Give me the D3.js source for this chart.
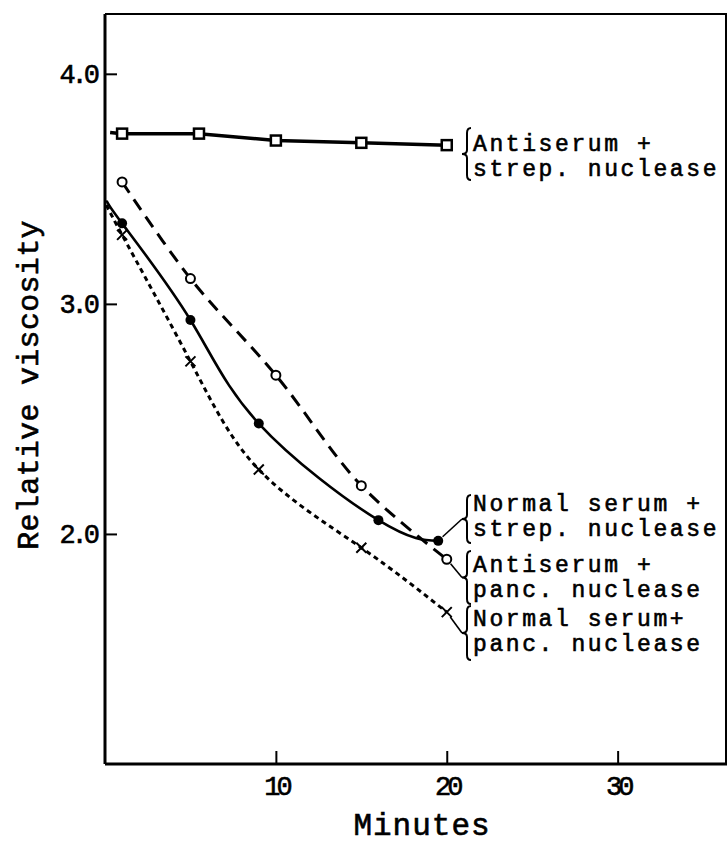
<!DOCTYPE html>
<html>
<head>
<meta charset="utf-8">
<script src="https://cdn.jsdelivr.net/npm/d3@7"></script>
<style>
body { margin: 0; background: #fff; }
text { font-family: "Liberation Mono", monospace; fill: #000; stroke: #000; stroke-width: 0.6px; }
</style>
</head>
<body>
<div id="chart"></div>
<script>
// values: minutes vs relative viscosity
var antiStrepMin  = [1, 5.5, 10, 15, 20];
var antiStrepVisc = [3.74, 3.74, 3.71, 3.70, 3.69];

var normStrepMin  = [1, 5, 9, 16, 19.5];
var normStrepVisc = [3.35, 2.93, 2.48, 2.06, 1.97];

var antiPancMin  = [1, 5, 10, 15, 20];
var antiPancVisc = [3.53, 3.11, 2.69, 2.21, 1.89];

var normPancMin  = [1, 5, 9, 15, 20];
var normPancVisc = [3.30, 2.75, 2.28, 1.94, 1.66];

// where the drawn lines start, next to the y axis
var lineStartMin  = [0.3, 0.1, 1, 0.1];
var lineStartVisc = [3.745, 3.45, 3.53, 3.43];

var xTicks = [10, 20, 30];
var yTicks = [2.0, 3.0, 4.0];

var labelLines = [
  ["Antiserum +", "strep. nuclease"],
  ["Normal serum +", "strep. nuclease"],
  ["Antiserum +", "panc. nuclease"],
  ["Normal serum+", "panc. nuclease"]
];

var svgWidth = 728, svgHeight = 843;
var margin = {top: 14, left: 105, bottom: 79, right: 1};

var svg = d3.select("#chart")
  .append("svg")
    .attr("width", svgWidth)
    .attr("height", svgHeight);

var x = d3.scaleLinear()
  .domain([0, 36.4])
  .range([margin.left, svgWidth - margin.right]);

var y = d3.scaleLinear()
  .domain([1, 4.26])
  .range([svgHeight - margin.bottom, margin.top]);

// frame
var x0 = x.range()[0], x1 = x.range()[1], y0 = y.range()[0], y1 = y.range()[1];
svg.append("line").attr("x1", x0).attr("x2", x1).attr("y1", y1).attr("y2", y1)
  .attr("stroke", "#000").attr("stroke-width", 2);
svg.append("line").attr("x1", x1 - 1).attr("x2", x1 - 1).attr("y1", y1).attr("y2", y0)
  .attr("stroke", "#000").attr("stroke-width", 2);

// axes
var xAxis = svg.append("g")
  .attr("transform", "translate(0," + y0 + ")")
  .call(d3.axisBottom(x).tickValues(xTicks).tickSize(-13).tickPadding(12).tickFormat(d3.format("d")));
var yAxis = svg.append("g")
  .attr("transform", "translate(" + x0 + ",0)")
  .call(d3.axisLeft(y).tickValues(yTicks).tickSize(-12).tickPadding(9).tickFormat(d3.format(".1f")));

[xAxis, yAxis].forEach(function(g) {
  g.select(".domain").remove();
  g.selectAll(".tick line").attr("stroke", "#000").attr("stroke-width", 2);
  g.selectAll(".tick text")
    .attr("font-family", "Liberation Mono")
    .attr("font-size", 27)
    .style("letter-spacing", "-4px")
    .attr("fill", "#000");
});

svg.append("line").attr("x1", x0).attr("x2", x1).attr("y1", y0).attr("y2", y0)
  .attr("stroke", "#000").attr("stroke-width", 3);
svg.append("line").attr("x1", x0).attr("x2", x0).attr("y1", y1).attr("y2", y0)
  .attr("stroke", "#000").attr("stroke-width", 3);

// axis titles
svg.append("text")
  .attr("x", 422)
  .attr("y", 835)
  .attr("text-anchor", "middle")
  .attr("font-size", 31)
  .style("letter-spacing", "1px")
  .text("Minutes");

svg.append("text")
  .attr("transform", "translate(38,385) rotate(-90)")
  .attr("text-anchor", "middle")
  .attr("font-size", 30)
  .style("letter-spacing", "0.3px")
  .text("Relative viscosity");

// series
function pts(mins, vals) {
  return mins.map(function(m, i) { return [m, vals[i]]; });
}

var series = [
  {p: pts(antiStrepMin, antiStrepVisc), curve: d3.curveLinear, width: 3.5, dash: null, mark: "square"},
  {p: pts(normStrepMin, normStrepVisc), curve: d3.curveNatural, width: 2.6, dash: null, mark: "dot"},
  {p: pts(antiPancMin, antiPancVisc), curve: d3.curveCatmullRom.alpha(0.5), width: 3, dash: "13,8", mark: "circle"},
  {p: pts(normPancMin, normPancVisc), curve: d3.curveNatural, width: 3, dash: "5,4", mark: "cross"}
];

series.forEach(function(s, i) {
  var lineData = s.p.slice();
  if (lineStartMin[i] < s.p[0][0]) lineData.unshift([lineStartMin[i], lineStartVisc[i]]);
  var line = d3.line()
    .x(function(d) { return x(d[0]); })
    .y(function(d) { return y(d[1]); })
    .curve(s.curve);
  svg.append("path")
    .datum(lineData)
    .attr("d", line)
    .attr("fill", "none")
    .attr("stroke", "#000")
    .attr("stroke-width", s.width)
    .attr("stroke-dasharray", s.dash);
});

// markers
series.forEach(function(s) {
  var g = svg.append("g");
  s.p.forEach(function(d) {
    var cx = x(d[0]), cy = y(d[1]);
    if (s.mark === "square") {
      g.append("rect").attr("x", cx - 5).attr("y", cy - 5).attr("width", 10).attr("height", 10)
        .attr("fill", "#fff").attr("stroke", "#000").attr("stroke-width", 2.5);
    } else if (s.mark === "dot") {
      g.append("circle").attr("cx", cx).attr("cy", cy).attr("r", 5).attr("fill", "#000");
    } else if (s.mark === "circle") {
      g.append("circle").attr("cx", cx).attr("cy", cy).attr("r", 4.5)
        .attr("fill", "#fff").attr("stroke", "#000").attr("stroke-width", 2);
    } else {
      g.append("path")
        .attr("d", "M" + (cx - 5) + "," + (cy - 5) + "L" + (cx + 5) + "," + (cy + 5) +
                   "M" + (cx + 5) + "," + (cy - 5) + "L" + (cx - 5) + "," + (cy + 5))
        .attr("stroke", "#000").attr("stroke-width", 2);
    }
  });
});

// braces with labels
var braceX = 467;
var braceSpans = [[128, 180], [495, 543], [551, 604], [606, 660]];
var baselineOffsets = [23, 16, 21, 20];

function bracePath(xb, top, bot) {
  var mid = (top + bot) / 2;
  return "M" + (xb + 4) + "," + top +
    "Q" + xb + "," + top + " " + xb + "," + (top + 5) +
    "L" + xb + "," + (mid - 4) +
    "Q" + xb + "," + mid + " " + (xb - 5) + "," + mid +
    "Q" + xb + "," + mid + " " + xb + "," + (mid + 4) +
    "L" + xb + "," + (bot - 5) +
    "Q" + xb + "," + bot + " " + (xb + 4) + "," + bot;
}

labelLines.forEach(function(lines, i) {
  var span = braceSpans[i];
  svg.append("path")
    .attr("d", bracePath(braceX, span[0], span[1]))
    .attr("fill", "none")
    .attr("stroke", "#000")
    .attr("stroke-width", 2);
  lines.forEach(function(t, j) {
    svg.append("text")
      .attr("x", braceX + 6)
      .attr("y", span[0] + baselineOffsets[i] + j * 25)
      .attr("font-size", 23)
      .style("letter-spacing", "2.6px")
      .text(t);
  });
  // leader from last marker to the brace tip
  if (i > 0) {
    var last = series[i].p[series[i].p.length - 1];
    var px = x(last[0]), py = y(last[1]);
    var tx = braceX - 5, ty = (span[0] + span[1]) / 2;
    var dx = tx - px, dy = ty - py, len = Math.sqrt(dx * dx + dy * dy);
    svg.append("line")
      .attr("x1", px + dx / len * 6).attr("y1", py + dy / len * 6)
      .attr("x2", tx).attr("y2", ty)
      .attr("stroke", "#000").attr("stroke-width", 1.6);
  }
});
</script>
</body>
</html>
